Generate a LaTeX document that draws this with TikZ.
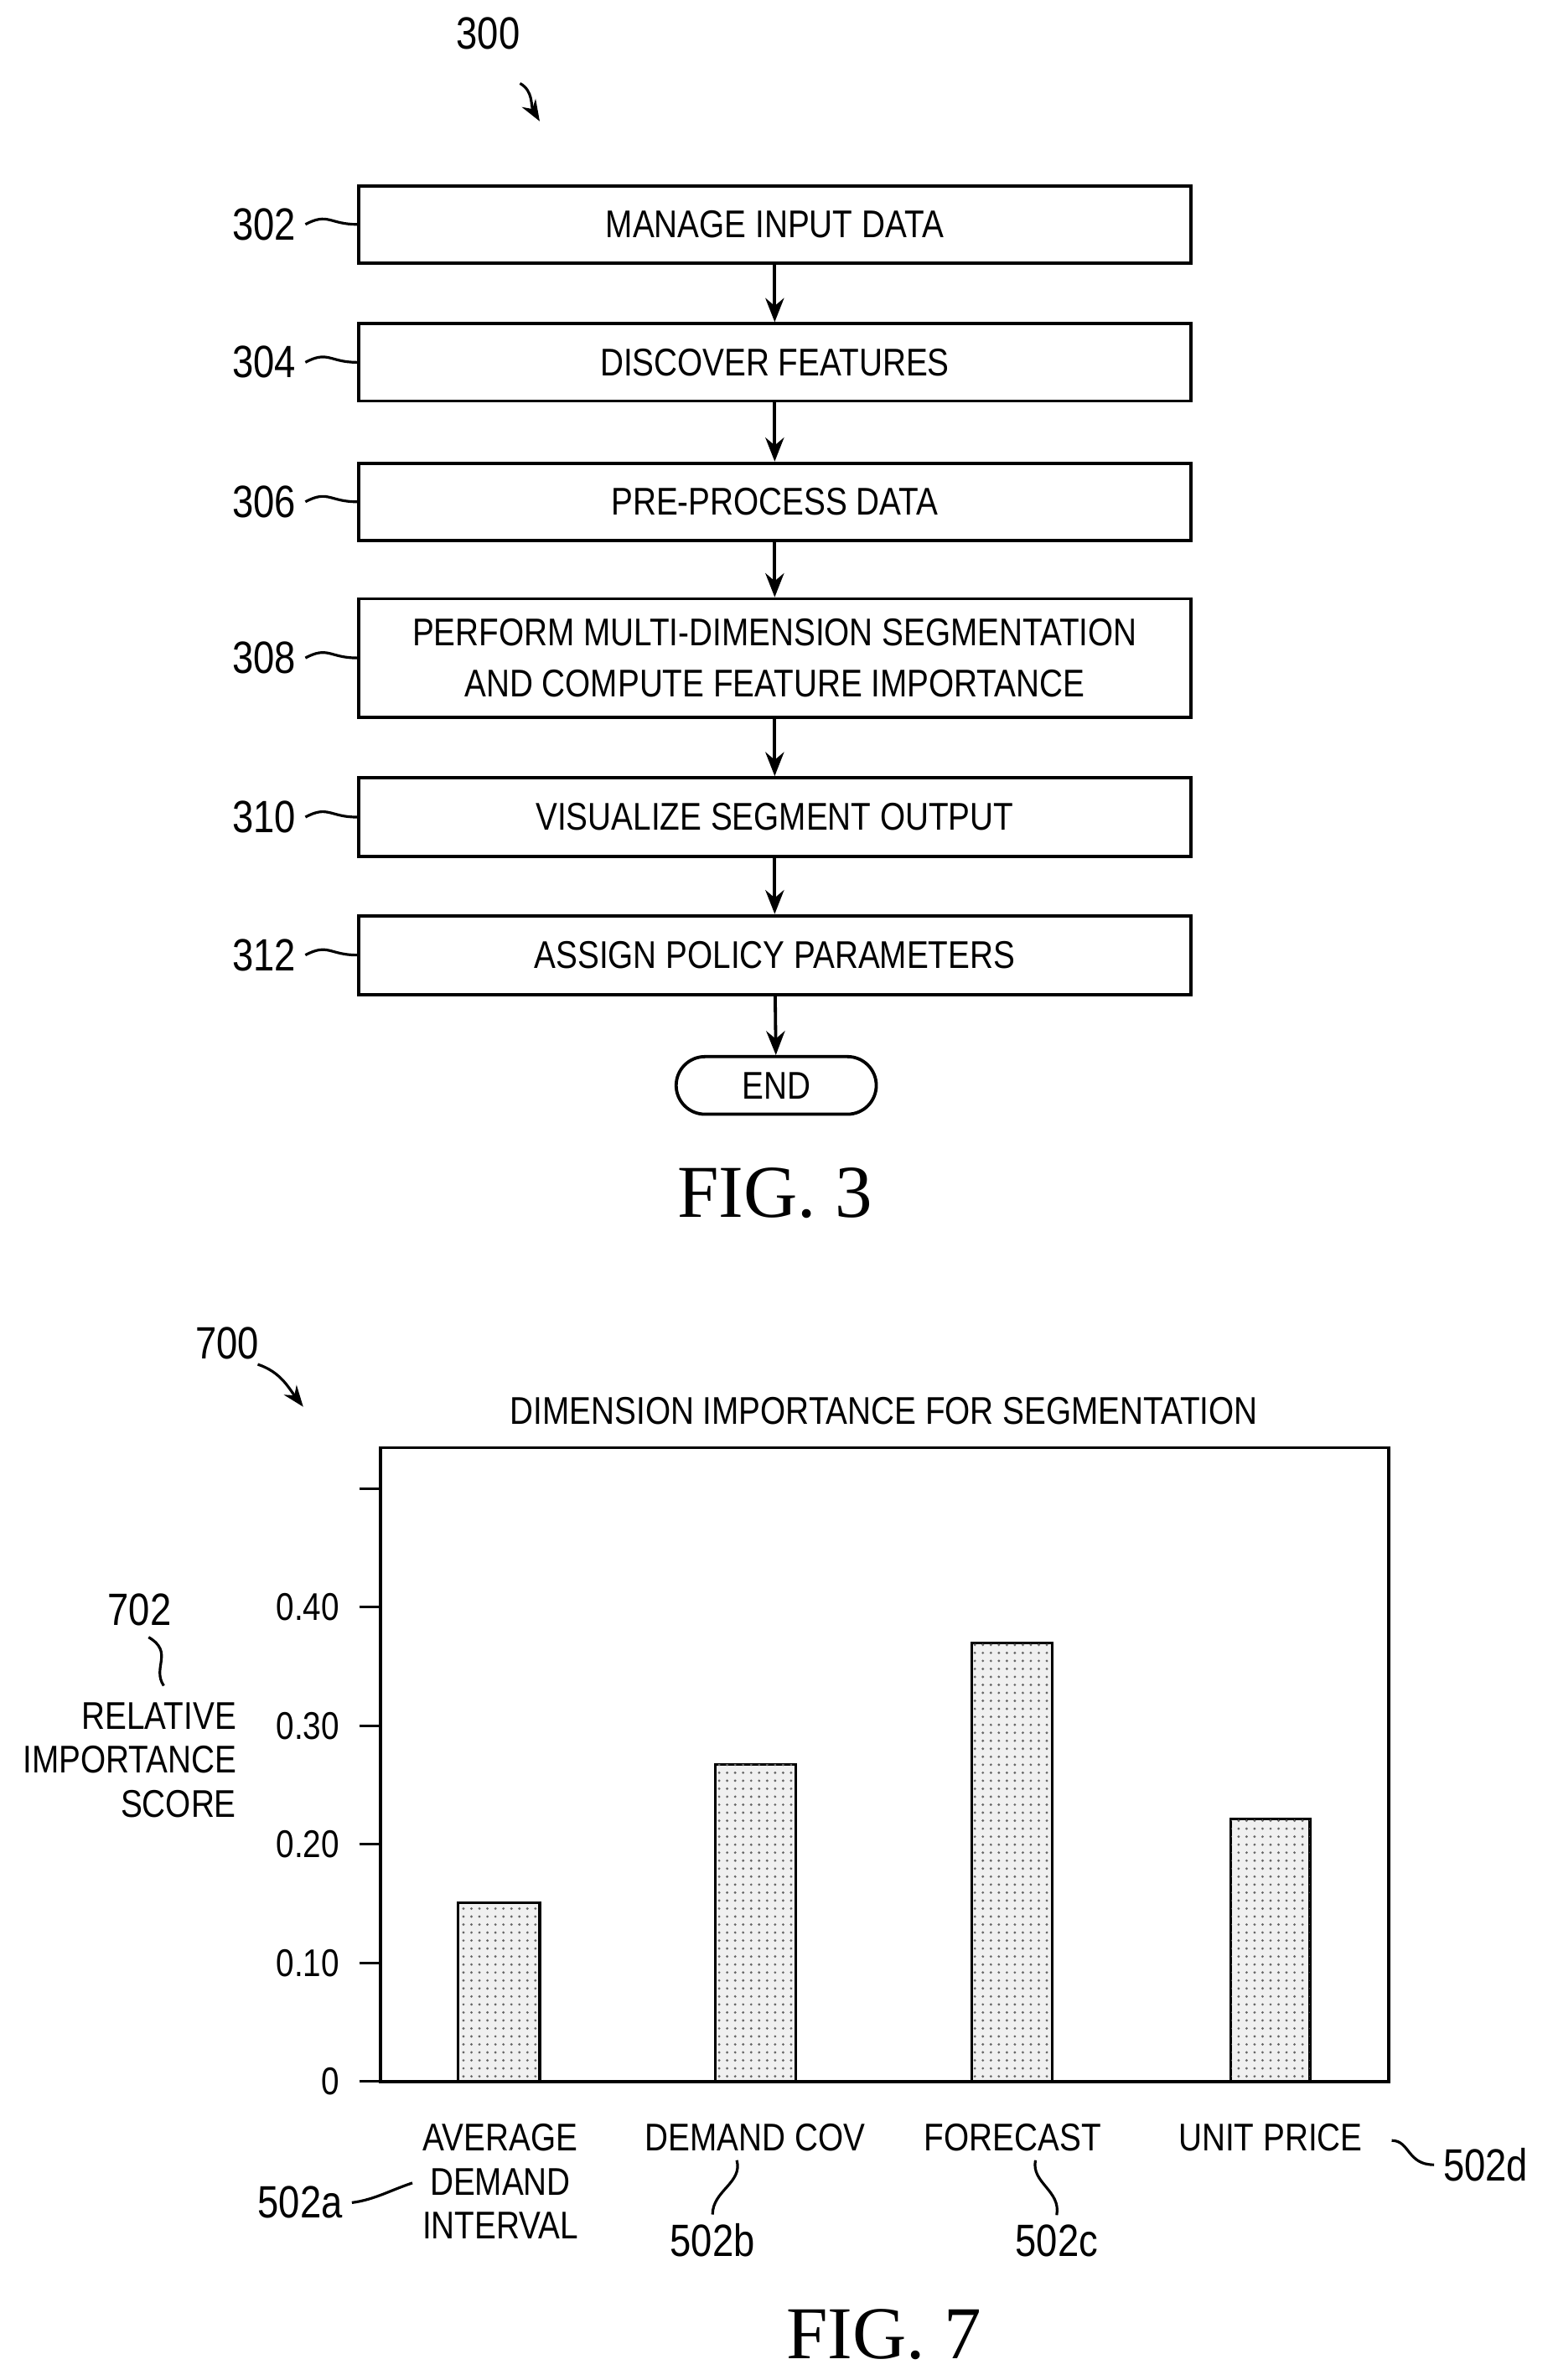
\documentclass[tikz,border=0pt]{standalone}
\usepackage{fontspec}
\setmainfont{Liberation Sans}[FakeStretch=0.84]
\newfontfamily\figfont{Liberation Serif}
\usetikzlibrary{positioning,patterns,arrows.meta,shapes.misc}
\newcommand{\pu}{0.02cm}
\tikzset{
  flowbox/.style={draw, line width=1.2pt, minimum width=549*\pu, inner sep=0pt, font=\fontsize{14.5}{19}\selectfont, align=center},
  ref/.style={font=\fontsize{17}{20}\selectfont},
  lead/.style={line width=1pt},
  flow/.style={line width=1.2pt, -{Stealth[length=9pt,width=7pt]}},
  bar/.style={draw, line width=1pt, fill=gray!12, postaction={pattern=dots, pattern color=gray!80!black}},
  fig/.style={font=\figfont\fontsize{28}{30}\selectfont},
}
\begin{document}
\begin{tikzpicture}[x=0.02cm, y=-0.02cm]
  \useasboundingbox (0,0) rectangle (1024,1570);

  % Flow chart
  \node[ref] (n300) at (322,22) {300};
  \draw[lead, -{Stealth[length=8pt]}] (343,55) .. controls (352,60) and (350,70) .. (356,80);

  \node[flowbox, minimum height=51*\pu] (s1) at (511,148) {MANAGE INPUT DATA};
  \node[flowbox, minimum height=51*\pu] (s2) at (511,239) {DISCOVER FEATURES};
  \node[flowbox, minimum height=51*\pu] (s3) at (511,331) {PRE-PROCESS DATA};
  \node[flowbox, minimum height=78*\pu] (s4) at (511,434) {PERFORM MULTI-DIMENSION SEGMENTATION\\AND COMPUTE FEATURE IMPORTANCE};
  \node[flowbox, minimum height=52*\pu] (s5) at (511,539) {VISUALIZE SEGMENT OUTPUT};
  \node[flowbox, minimum height=52*\pu] (s6) at (511,630) {ASSIGN POLICY PARAMETERS};
  \node[draw, line width=1.2pt, rounded rectangle, minimum width=132*\pu, minimum height=38*\pu, inner sep=0pt, font=\fontsize{14.5}{19}\selectfont] (end) at (512,716) {END};

  \foreach \a/\b in {s1/s2, s2/s3, s3/s4, s4/s5, s5/s6, s6/end}
    \draw[flow] (\a) -- (\b);

  % reference numerals
  \foreach \s/\n in {s1/302, s2/304, s3/306, s4/308, s5/310, s6/312} {
    \node[ref, left=34*\pu of \s.west] (r\n) {\n};
    \draw[lead] (r\n.east) .. controls +(15,-8) and +(-18,0) .. (\s.west);
  }

  \node[fig] (fig3) at (511,787) {FIG. 3};

  % chart
  \node[ref] (n700) at (150,886) {700};
  \draw[lead, -{Stealth[length=8pt]}] (170,900) .. controls (185,905) and (190,915) .. (200,928);
  \node[font=\fontsize{14.5}{19}\selectfont] (title) at (583,931) {DIMENSION IMPORTANCE FOR SEGMENTATION};
  \draw[line width=1.2pt] (251,955) rectangle (916,1373);

  \foreach \v/\l in {0/0, 1/0.10, 2/0.20, 3/0.30, 4/0.40, 5/} {
    \draw[line width=1pt] (237,1373-78.2*\v) -- (251,1373-78.2*\v);
    \node[anchor=east, font=\fontsize{14.5}{19}\selectfont] at (230,1373-78.2*\v) {\l};
  }

  \draw[bar] (302,1373) rectangle (356,1255);
  \draw[bar] (472,1373) rectangle (525,1164);
  \draw[bar] (641,1373) rectangle (694,1084);
  \draw[bar] (812,1373) rectangle (864,1200);

  \node[ref] (n702) at (92,1062) {702};
  \draw[lead] (98,1080) .. controls (115,1090) and (100,1100) .. (108,1112);
  \node[anchor=north east, align=right, font=\fontsize{14.5}{16.5}\selectfont] (yl) at (162,1117) {RELATIVE\\IMPORTANCE\\SCORE};

  \node[anchor=north, align=center, font=\fontsize{14.5}{16.5}\selectfont] (c1) at (330,1395) {AVERAGE\\DEMAND\\INTERVAL};
  \node[anchor=north, font=\fontsize{14.5}{16.5}\selectfont] (c2) at (498,1395) {DEMAND COV};
  \node[anchor=north, font=\fontsize{14.5}{16.5}\selectfont] (c3) at (668,1395) {FORECAST};
  \node[anchor=north, font=\fontsize{14.5}{16.5}\selectfont] (c4) at (838,1395) {UNIT PRICE};

  \node[ref] (r502a) at (198,1453) {502a};
  \node[ref] (r502b) at (470,1478) {502b};
  \node[ref] (r502c) at (697,1478) {502c};
  \node[ref] (r502d) at (980,1428) {502d};
  \draw[lead] (r502a.east) .. controls +(15,-2) and +(-15,5) .. (272,1440);
  \draw[lead] (486,1425) .. controls (490,1440) and (470,1445) .. (r502b.north);
  \draw[lead] (683,1425) .. controls (680,1440) and (700,1445) .. (r502c.north);
  \draw[lead] (918,1412) .. controls (930,1412) and (928,1428) .. (r502d.west);

  \node[fig] (fig7) at (583,1540) {FIG. 7};
\end{tikzpicture}
\end{document}
